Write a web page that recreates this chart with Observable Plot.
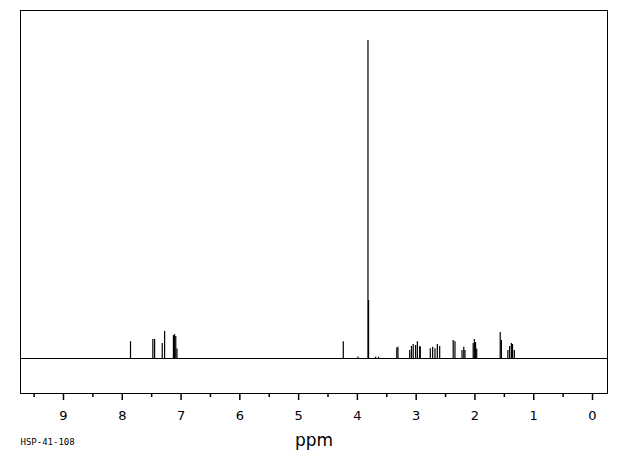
<!DOCTYPE html>
<html>
<head>
<meta charset="utf-8">
<script src="https://cdn.jsdelivr.net/npm/d3@7"></script>
<script src="https://cdn.jsdelivr.net/npm/@observablehq/plot@0.6"></script>
<style>
  html, body { margin: 0; padding: 0; background: #fff; }
  #chart svg { display: block; }
</style>
</head>
<body>
<div id="chart"></div>
<script>
// Peak positions (ppm) and intensities (tallest = 100)
const peakPpm = [
  7.86, 7.48, 7.45, 7.32, 7.28, 7.13, 7.11, 7.09, 7.07,
  4.24, 3.99, 3.82, 3.81, 3.69, 3.64,
  3.33, 3.31,
  3.11, 3.08, 3.05, 3.01, 2.98, 2.94, 2.93,
  2.76, 2.72, 2.68, 2.64, 2.60,
  2.37, 2.34, 2.22, 2.19, 2.17,
  2.03, 2.01, 1.99, 1.97,
  1.57, 1.55,
  1.44, 1.41, 1.38, 1.36, 1.33
];
const peakHeight = [
  5.3, 6.0, 6.0, 4.7, 8.5, 7.2, 7.5, 6.9, 3.0,
  5.3, 0.5, 100, 18.2, 0.4, 0.4,
  3.3, 3.5,
  2.5, 3.8, 4.4, 4.1, 5.3, 3.8, 3.5,
  3.1, 3.5, 3.1, 4.4, 3.8,
  5.7, 5.3, 2.5, 3.5, 2.5,
  4.7, 6.0, 5.0, 3.0,
  8.2, 5.7,
  2.5, 3.8, 4.7, 4.4, 2.5
];
const majorTicks = [0, 1, 2, 3, 4, 5, 6, 7, 8, 9];
const minorTicks = [0.5, 1.5, 2.5, 3.5, 4.5, 5.5, 6.5, 7.5, 8.5, 9.5];
const xLabel = "ppm";
const sampleId = "HSP-41-108";

const peaks = peakPpm.map((p, i) => ({ppm: p, h: peakHeight[i]}));

const chart = Plot.plot({
  width: 620,
  height: 455,
  marginLeft: 20,
  marginRight: 13,
  marginTop: 10,
  marginBottom: 62,
  style: {fontFamily: "DejaVu Sans", background: "#fff", color: "#000"},
  x: {domain: [9.7315, -0.255], label: null},
  y: {domain: [-11.0, 109.4], axis: null},
  marks: [
    Plot.frame({stroke: "#000", strokeWidth: 1}),
    Plot.ruleY([0], {stroke: "#000", strokeWidth: 1}),
    Plot.ruleX(peaks, {x: "ppm", y1: 0, y2: "h", stroke: "#000", strokeWidth: 1.2}),
    Plot.axisX(majorTicks, {tickSize: 7, tickPadding: 10, fontSize: 13, stroke: "#000", strokeWidth: 1.5, tickFormat: d => String(d), label: null}),
    Plot.axisX(minorTicks, {tickSize: 4, tickFormat: () => "", stroke: "#000", strokeWidth: 1.5, label: null}),
    Plot.text([xLabel], {frameAnchor: "bottom", dy: 52, fontSize: 17, fill: "#000"}),
    Plot.text([sampleId], {frameAnchor: "bottom-left", textAnchor: "start", dy: 51, fontSize: 9, fill: "#000", fontFamily: "DejaVu Sans Mono"})
  ]
});
document.getElementById("chart").appendChild(chart);
</script>
</body>
</html>
